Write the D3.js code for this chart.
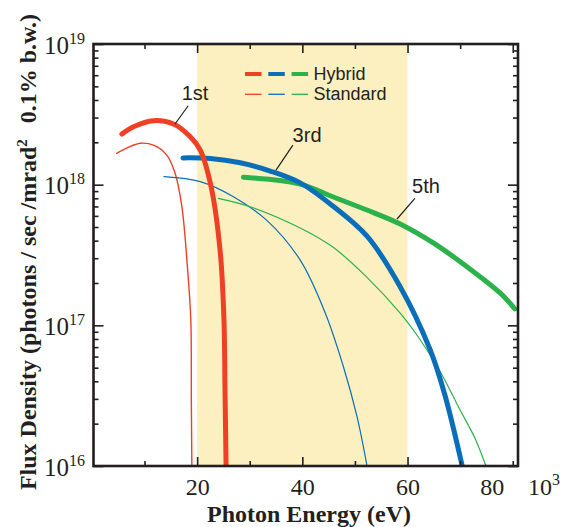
<!DOCTYPE html>
<html>
<head>
<meta charset="utf-8">
<script src="https://cdn.jsdelivr.net/npm/d3@7"></script>
<style>
body { margin: 0; background: #fff; }
svg { display: block; }
.serif { font-family: "Liberation Serif", "Times New Roman", serif; fill: #231f20; }
.sans { font-family: "Liberation Sans", Arial, sans-serif; fill: #231f20; }
</style>
</head>
<body>
<svg></svg>
<script>
const width = 564;
const height = 527;
const margin = {left: 93.5, top: 44, right: 46, bottom: 61};

// photon energy in keV (axis shows eV x 10^3), flux density in photons/sec/mrad^2/0.1% b.w.
const hybrid1E = [5.7, 7.9, 11.7, 15.5, 18.7, 20.6, 22.7, 24.4, 25.1, 25.3, 25.5];
const hybrid1F = [2.29e18, 2.58e18, 2.85e18, 2.70e18, 2.19e18, 1.76e18, 9.5e17, 3.3e17, 1.1e17, 3.5e16, 1.0e16];
const standard1E = [4.7, 6.6, 9.2, 11.7, 14.2, 15.8, 17.1, 18.2, 18.8, 18.9, 19.0];
const standard1F = [1.67e18, 1.82e18, 1.97e18, 1.91e18, 1.63e18, 1.21e18, 6.97e17, 2.47e17, 1.09e17, 2.9e16, 1.0e16];
const hybrid3E = [17.3, 22.5, 28.2, 33.9, 39.6, 45.8, 52.3, 58.6, 64.3, 67.1, 70.4];
const hybrid3F = [1.55e18, 1.535e18, 1.43e18, 1.25e18, 1.03e18, 7.05e17, 4.3e17, 1.88e17, 6.7e16, 3.2e16, 1.0e16];
const standard3E = [13.7, 20.6, 26.9, 33.2, 39.6, 44.3, 47.8, 50.4, 52.3];
const standard3F = [1.14e18, 1.05e18, 8.2e17, 5.6e17, 2.91e17, 1.24e17, 5.1e16, 2.24e16, 1.0e16];
const hybrid5E = [28.8, 39.6, 45.8, 52.3, 58.6, 64.9, 71.3, 77.6, 80.4];
const hybrid5F = [1.13e18, 1.01e18, 8.2e17, 6.6e17, 5.25e17, 3.85e17, 2.61e17, 1.7e17, 1.31e17];
const standard5E = [24.0, 30.1, 39.6, 45.8, 52.2, 58.6, 62.4, 66.2, 70.0, 72.8, 74.9];
const standard5F = [8.0e17, 6.97e17, 4.92e17, 3.6e17, 2.21e17, 1.22e17, 7.9e16, 4.7e16, 2.5e16, 1.58e16, 1.0e16];

const shadedBand = [20, 60];
const xMajorTicks = [20, 40, 60, 80];
const xMinorTicks = [10, 30, 50, 70];
const yDecades = [16, 17, 18, 19];
const noteText = ["1st", "3rd", "5th"];
const noteAt = [[19.6, 4.0e18], [40.9, 2.02e18], [63.5, 8.7e17]];
const noteFrom = [[18.3, 3.64e18], [38.2, 1.91e18], [61.4, 8.0e17]];
const noteTo = [[15.8, 2.70e18], [35.0, 1.27e18], [58.0, 5.7e17]];
const legendLabels = ["Hybrid", "Standard"];

const red = "#ee4024", blue = "#0a6fb8", green = "#2bb24a";
const series = [
    {e: standard1E, f: standard1F, color: red, w: 1.4},
    {e: standard3E, f: standard3F, color: blue, w: 1.2},
    {e: standard5E, f: standard5F, color: green, w: 1.2},
    {e: hybrid5E, f: hybrid5F, color: green, w: 5},
    {e: hybrid3E, f: hybrid3F, color: blue, w: 5},
    {e: hybrid1E, f: hybrid1F, color: red, w: 5}
];

const svg = d3.select("svg")
    .attr("width", width)
    .attr("height", height);

const x = d3.scaleLinear()
    .domain([0.3, 81])
    .range([margin.left, width - margin.right]);
const y = d3.scaleLog()
    .domain([1e16, 1e19])
    .range([height - margin.bottom, margin.top]);

const x0 = margin.left, x1 = width - margin.right;
const y0 = height - margin.bottom, y1 = margin.top;

svg.append("defs").append("clipPath")
    .attr("id", "plot-clip")
    .append("rect")
    .attr("x", x0).attr("y", y1)
    .attr("width", x1 - x0).attr("height", y0 - y1);

// shaded energy band
svg.append("rect")
    .attr("x", x(shadedBand[0]))
    .attr("y", y1)
    .attr("width", x(shadedBand[1]) - x(shadedBand[0]))
    .attr("height", y0 - y1)
    .attr("fill", "#fcf0c0");

// curves
const line = d3.line()
    .x(d => x(d[0]))
    .y(d => y(d[1]))
    .curve(d3.curveCatmullRom.alpha(0.5));

svg.append("g")
    .attr("clip-path", "url(#plot-clip)")
    .selectAll("path")
    .data(series)
    .enter().append("path")
    .attr("d", s => line(s.e.map((e, i) => [e, s.f[i]])))
    .attr("fill", "none")
    .attr("stroke", s => s.color)
    .attr("stroke-width", s => s.w)
    .attr("stroke-linecap", "round");

// ticks, all pointing inward
const yMinor = [];
yDecades.slice(0, -1).forEach(d => {
    for (let k = 2; k <= 9; k++) yMinor.push(k * Math.pow(10, d));
});
const yMajor = yDecades.map(d => Math.pow(10, d));

function tickAxis(axis, tx, ty) {
    const g = svg.append("g")
        .attr("transform", `translate(${tx},${ty})`)
        .call(axis);
    g.select(".domain").remove();
    g.selectAll("line").attr("stroke", "#231f20").attr("stroke-width", 1.6);
    return g;
}

const bottomMajor = tickAxis(d3.axisBottom(x).tickValues(xMajorTicks).tickSize(-9).tickFormat(d3.format("d")), 0, y0);
tickAxis(d3.axisBottom(x).tickValues(xMinorTicks).tickSize(-5).tickFormat(""), 0, y0);
tickAxis(d3.axisTop(x).tickValues(xMajorTicks).tickSize(-9).tickFormat(""), 0, y1);
tickAxis(d3.axisTop(x).tickValues(xMinorTicks).tickSize(-5).tickFormat(""), 0, y1);
const leftMajor = tickAxis(d3.axisLeft(y).tickValues(yMajor).tickSize(-10), x0, 0);
tickAxis(d3.axisLeft(y).tickValues(yMinor).tickSize(-5).tickFormat(""), x0, 0);
tickAxis(d3.axisRight(y).tickValues(yMajor).tickSize(-10).tickFormat(""), x1, 0);
tickAxis(d3.axisRight(y).tickValues(yMinor).tickSize(-5).tickFormat(""), x1, 0);

// 80 sits near the corner, so it is nudged left like the original
bottomMajor.selectAll("line").filter(d => d === 80).attr("y2", -5);
bottomMajor.selectAll("text")
    .attr("class", "serif")
    .attr("font-size", 24)
    .attr("y", 29)
    .attr("dy", null)
    .attr("fill", "#231f20")
    .attr("dx", d => d === 80 ? -21 : 0);

leftMajor.selectAll("text").each(function(d) {
    const t = d3.select(this)
        .attr("class", "serif")
        .attr("fill", "#231f20")
        .attr("x", -8.5)
        .attr("dy", null)
        .attr("y", 9)
        .attr("font-size", 25)
        .text(null);
    t.append("tspan").text("10");
    t.append("tspan").attr("dy", -10).attr("font-size", 16).text(Math.round(Math.log10(d)));
});

svg.append("text")
    .attr("class", "serif")
    .attr("x", 528)
    .attr("y", y0 + 29)
    .attr("font-size", 24)
    .call(t => {
        t.append("tspan").text("10");
        t.append("tspan").attr("dy", -10).attr("font-size", 16).text("3");
    });

// frame
svg.append("rect")
    .attr("x", x0).attr("y", y1)
    .attr("width", x1 - x0).attr("height", y0 - y1)
    .attr("fill", "none")
    .attr("stroke", "#231f20")
    .attr("stroke-width", 2.6);

// harmonic labels with leader lines
noteText.forEach((txt, i) => {
    svg.append("line")
        .attr("x1", x(noteFrom[i][0])).attr("y1", y(noteFrom[i][1]))
        .attr("x2", x(noteTo[i][0])).attr("y2", y(noteTo[i][1]))
        .attr("stroke", "#231f20")
        .attr("stroke-width", 1.2);
    svg.append("text")
        .attr("class", "sans")
        .attr("x", x(noteAt[i][0]))
        .attr("y", y(noteAt[i][1]))
        .attr("text-anchor", "middle")
        .attr("font-size", 20)
        .text(txt);
});

// legend
const legend = svg.append("g").attr("transform", "translate(245,74)");
const legendColors = [red, blue, green];
legendLabels.forEach((lab, row) => {
    legendColors.forEach((c, j) => {
        legend.append("line")
            .attr("x1", j * 23.3).attr("x2", j * 23.3 + 16.5)
            .attr("y1", row * 20.3).attr("y2", row * 20.3)
            .attr("stroke", c)
            .attr("stroke-width", row === 0 ? 4 : 1.3);
    });
    legend.append("text")
        .attr("class", "sans")
        .attr("x", 68.5)
        .attr("y", row * 20.3 + 6)
        .attr("font-size", 18)
        .text(lab);
});

// axis titles
svg.append("text")
    .attr("class", "serif")
    .attr("x", 309)
    .attr("y", 521.8)
    .attr("text-anchor", "middle")
    .attr("font-size", 24)
    .attr("font-weight", "bold")
    .text("Photon Energy (eV)");

const yTitle = svg.append("text")
    .attr("class", "serif")
    .attr("transform", "translate(36,252) rotate(-90)")
    .attr("text-anchor", "middle")
    .attr("font-size", 24)
    .attr("font-weight", "bold");
yTitle.append("tspan").text("Flux Density (photons / sec /mrad");
yTitle.append("tspan").attr("dy", -9).attr("font-size", 15).text("2");
yTitle.append("tspan").attr("dy", 9).attr("dx", 16).text("0.1% b.w.)");
</script>
</body>
</html>
